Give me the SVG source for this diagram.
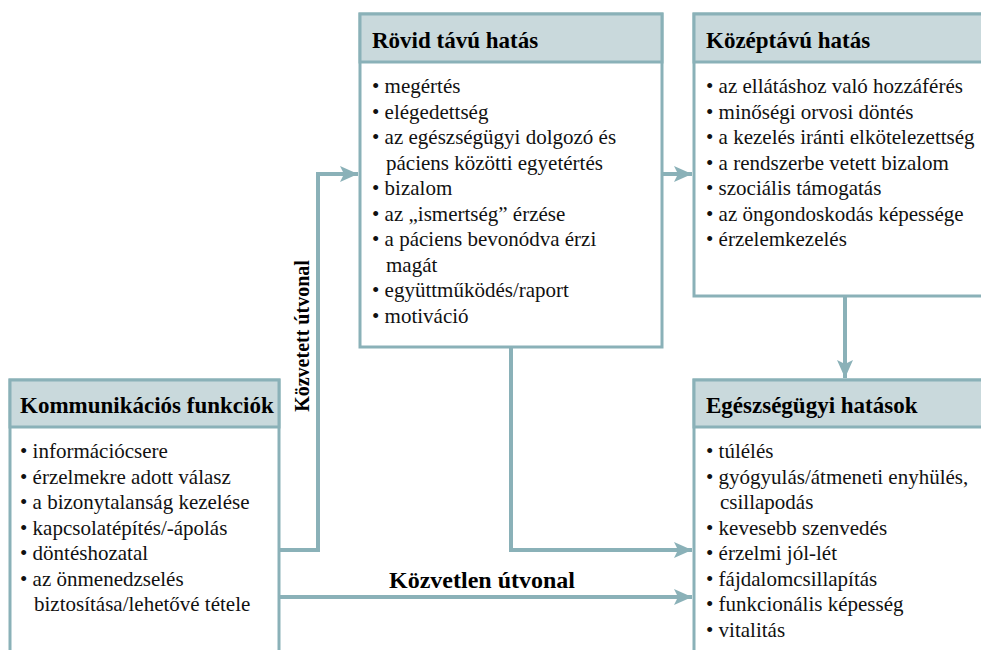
<svg xmlns="http://www.w3.org/2000/svg" width="981" height="650" viewBox="0 0 981 650">
  <style>
    .box { fill: #ffffff; stroke: #8ab1b8; stroke-width: 3; }
    .head { fill: #c9d9dc; stroke: #8ab1b8; stroke-width: 3; }
    .conn { fill: none; stroke: #8ab1b8; stroke-width: 4; }
    text { font-family: "Liberation Serif", "Times New Roman", Times, serif; fill: #111; }
    text.t { font-weight: bold; font-size: 23px; fill: #000; }
    text.i { font-size: 21px; }
    text.lbl { font-weight: bold; fill: #000; }
  </style>
  <defs>
    <marker id="arrow" markerUnits="userSpaceOnUse" markerWidth="20" markerHeight="18" refX="18" refY="9" orient="auto">
      <path d="M0,1 L18,9 L0,17 L4,9 Z" fill="#8ab1b8"/>
    </marker>
  </defs>

  <rect width="981" height="650" fill="#ffffff"/>

  <!-- connectors -->
  <g id="connectors">
    <path class="conn" d="M279,550 H318 V174 H358" marker-end="url(#arrow)"/>
    <path class="conn" d="M662,174 H692" marker-end="url(#arrow)"/>
    <path class="conn" d="M845,296 V378" marker-end="url(#arrow)"/>
    <path class="conn" d="M511,347 V550 H692" marker-end="url(#arrow)"/>
    <path class="conn" d="M279,597 H692" marker-end="url(#arrow)"/>
    <text class="lbl" style="font-size:20px" transform="translate(309,336) rotate(-90)" text-anchor="middle">Közvetett útvonal</text>
    <text class="lbl" style="font-size:24px" x="482" y="588" text-anchor="middle">Közvetlen útvonal</text>
  </g>

  <!-- communication functions -->
  <g id="kommunikacios">
    <rect class="box" x="10" y="380" width="269" height="290"/>
    <rect class="head" x="10" y="380" width="269" height="47"/>
    <text class="t" x="20" y="413">Kommunikációs funkciók</text>
    <text class="i" x="20" y="458">• információcsere</text>
    <text class="i" x="20" y="483.5">• érzelmekre adott válasz</text>
    <text class="i" x="20" y="509">• a bizonytalanság kezelése</text>
    <text class="i" x="20" y="534.5">• kapcsolatépítés/-ápolás</text>
    <text class="i" x="20" y="560">• döntéshozatal</text>
    <text class="i" x="20" y="585.5">• az önmenedzselés</text>
    <text class="i" x="34" y="611">biztosítása/lehetővé tétele</text>
  </g>

  <!-- short-term effect -->
  <g id="rovid">
    <rect class="box" x="360" y="14" width="302" height="333"/>
    <rect class="head" x="360" y="14" width="302" height="48"/>
    <text class="t" x="372" y="48">Rövid távú hatás</text>
    <text class="i" x="372" y="93">• megértés</text>
    <text class="i" x="372" y="118.5">• elégedettség</text>
    <text class="i" x="372" y="144">• az egészségügyi dolgozó és</text>
    <text class="i" x="386" y="169.5">páciens közötti egyetértés</text>
    <text class="i" x="372" y="195">• bizalom</text>
    <text class="i" x="372" y="220.5">• az „ismertség” érzése</text>
    <text class="i" x="372" y="246">• a páciens bevonódva érzi</text>
    <text class="i" x="386" y="271.5">magát</text>
    <text class="i" x="372" y="297">• együttműködés/raport</text>
    <text class="i" x="372" y="322.5">• motiváció</text>
  </g>

  <!-- medium-term effect -->
  <g id="kozeptavu">
    <rect class="box" x="694" y="14" width="300" height="282"/>
    <rect class="head" x="694" y="14" width="300" height="48"/>
    <text class="t" x="706" y="48">Középtávú hatás</text>
    <text class="i" x="706" y="93">• az ellátáshoz való hozzáférés</text>
    <text class="i" x="706" y="118.5">• minőségi orvosi döntés</text>
    <text class="i" x="706" y="144">• a kezelés iránti elkötelezettség</text>
    <text class="i" x="706" y="169.5">• a rendszerbe vetett bizalom</text>
    <text class="i" x="706" y="195">• szociális támogatás</text>
    <text class="i" x="706" y="220.5">• az öngondoskodás képessége</text>
    <text class="i" x="706" y="246">• érzelemkezelés</text>
  </g>

  <!-- health outcomes -->
  <g id="egeszsegugyi">
    <rect class="box" x="694" y="380" width="300" height="290"/>
    <rect class="head" x="694" y="380" width="300" height="47"/>
    <text class="t" x="706" y="413">Egészségügyi hatások</text>
    <text class="i" x="706" y="458">• túlélés</text>
    <text class="i" x="706" y="483.5">• gyógyulás/átmeneti enyhülés,</text>
    <text class="i" x="720" y="509">csillapodás</text>
    <text class="i" x="706" y="534.5">• kevesebb szenvedés</text>
    <text class="i" x="706" y="560">• érzelmi jól-lét</text>
    <text class="i" x="706" y="585.5">• fájdalomcsillapítás</text>
    <text class="i" x="706" y="611">• funkcionális képesség</text>
    <text class="i" x="706" y="636.5">• vitalitás</text>
  </g>
</svg>
